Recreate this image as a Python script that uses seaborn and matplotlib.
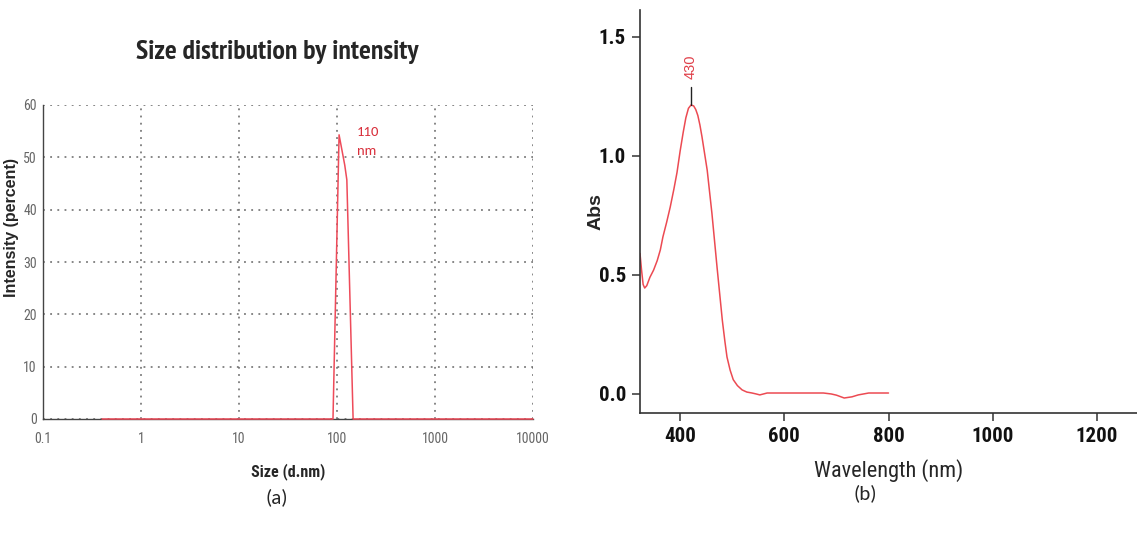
import seaborn as sns
import matplotlib.pyplot as plt
import matplotlib.ticker as mticker

# size distribution (DLS)
size_nm = [0.4, 1, 10, 91, 105, 112, 120, 126, 146, 1000, 10000]
intensity = [0, 0, 0, 0, 54.3, 51.5, 48.5, 45.7, 0, 0, 0]
peak_size_label = "110\nnm"

# UV-vis spectrum
wavelength = [323, 326, 329, 332, 336, 342, 349, 356, 362, 367, 374, 381, 388, 394, 400,
              406, 411, 416, 421, 426, 430, 434, 438, 442, 447, 452, 456, 461, 466, 471,
              476, 481, 486, 490, 496, 502, 510, 519, 528, 538, 546, 553, 560, 567, 592,
              640, 675, 690, 700, 715, 730, 742, 762, 800]
absorb = [0.59, 0.52, 0.46, 0.445, 0.455, 0.49, 0.52, 0.56, 0.605, 0.66, 0.72, 0.785, 0.86,
          0.93, 1.02, 1.10, 1.16, 1.20, 1.214, 1.21, 1.195, 1.17, 1.13, 1.08, 1.01, 0.94,
          0.86, 0.76, 0.645, 0.53, 0.42, 0.31, 0.22, 0.155, 0.10, 0.06, 0.035, 0.017, 0.008,
          0.004, 0.0, -0.004, 0.0, 0.004, 0.004, 0.004, 0.004, 0.0, -0.005, -0.017, -0.012,
          -0.004, 0.004, 0.004]
peak_wl = 421
peak_abs = 1.214
peak_label = "430"

sns.set_style("white")
COND = ['Roboto Condensed', 'Archivo Narrow', 'Liberation Sans', 'DejaVu Sans']
plt.rcParams['font.family'] = COND
ARIAL = ['Liberation Sans', 'DejaVu Sans']
CALIBRI = ['Carlito', 'Open Sans', 'DejaVu Sans']

fig = plt.figure(figsize=(11.37, 5.36), dpi=100)
W, H = 1137, 536

# ---- (a) ----
ax1 = fig.add_axes([43 / W, 1 - 419 / H, 490 / W, 314 / H])
sns.lineplot(x=size_nm, y=intensity, ax=ax1, color='#ee4b5a', lw=1.1,
             sort=False, estimator=None, zorder=5)
ax1.lines[0].set_clip_on(False)
ax1.set_xscale('log')
ax1.set_xlim(0.1, 10000)
ax1.set_ylim(0, 60)
ax1.set_xticks([0.1, 1, 10, 100, 1000, 10000])
ax1.set_xticklabels(['0.1', '1', '10', '100', '1000', '10000'])
ax1.yaxis.set_major_locator(mticker.MultipleLocator(10))
ax1.yaxis.set_minor_locator(mticker.MultipleLocator(5))
ax1.xaxis.set_minor_locator(mticker.LogLocator(base=10, subs=range(2, 10)))
ax1.xaxis.set_minor_formatter(mticker.NullFormatter())
ax1.grid(True, which='major', color='#666666', linestyle=(0, (1.2, 3.5)), lw=1.1)
for s in ['top', 'right']:
    ax1.spines[s].set_visible(False)
for s in ['left', 'bottom']:
    ax1.spines[s].set_color('#444444')
    ax1.spines[s].set_linewidth(1.0)
ax1.tick_params(which='major', direction='inout', length=7, width=1, color='#444444',
                labelcolor='#666666', labelsize=10)
ax1.tick_params(which='minor', direction='inout', length=5, width=1, color='#444444')
ax1.tick_params(axis='x', pad=6)
ax1.tick_params(axis='y', pad=1)
ax1.set_xlabel('Size (d.nm)', fontsize=11.5, fontweight='bold')
ax1.xaxis.set_label_coords(0.5, -0.14)
ax1.set_ylabel('Intensity (percent)', fontsize=11.5, fontweight='bold', family=ARIAL)
ax1.yaxis.set_label_coords(-0.049, 0.61)
ax1.text(160, 53, peak_size_label, color='#d9303c', fontsize=10.5, ha='left', va='center',
         linespacing=1.65, family=CALIBRI)
fig.text(277 / W, 1 - 52 / H, 'Size distribution by intensity', ha='center', va='center',
         fontsize=20, fontweight='bold', family=['PT Sans Narrow'] + COND)

# ---- (b) ----
ax2 = fig.add_axes([640 / W, 1 - 413 / H, 1 - 640 / W, 403 / H])
sns.lineplot(x=wavelength, y=absorb, ax=ax2, color='#ec4a52', lw=1.1,
             sort=False, estimator=None)
ax2.set_xlim(323, 1277)
ax2.set_ylim(-0.08, 1.613)
ax2.set_xticks([400, 600, 800, 1000, 1200])
ax2.set_yticks([0.0, 0.5, 1.0, 1.5])
ax2.yaxis.set_major_formatter(mticker.FormatStrFormatter('%.1f'))
for s in ['top', 'right']:
    ax2.spines[s].set_visible(False)
for s in ['left', 'bottom']:
    ax2.spines[s].set_color('#333333')
    ax2.spines[s].set_linewidth(1.2)
ax2.tick_params(direction='out', length=6, width=1.1, color='#333333', labelsize=15,
                labelcolor='#111111', bottom=True, left=True, pad=4)
for lab in ax2.get_xticklabels() + ax2.get_yticklabels():
    lab.set_fontweight('bold')
ax2.set_xlabel('Wavelength (nm)', fontsize=16)
ax2.xaxis.set_label_coords(0.5, -0.115)
ax2.set_ylabel('Abs', fontsize=14, fontweight='bold', family=ARIAL)
ax2.yaxis.set_label_coords(-0.072, 0.5)
ax2.plot([peak_wl, peak_wl], [peak_abs, 1.29], color='#222222', lw=1)
ax2.text(peak_wl, 1.325, peak_label, rotation=90, ha='center', va='bottom',
         color='#e0404a', fontsize=10.5, family=ARIAL)

fig.text(277 / W, 1 - 497 / H, '(a)', ha='center', va='center', fontsize=15, family=CALIBRI)
fig.text(865 / W, 1 - 493 / H, '(b)', ha='center', va='center', fontsize=15, family=CALIBRI)

fig.savefig('out.png', dpi=100)
